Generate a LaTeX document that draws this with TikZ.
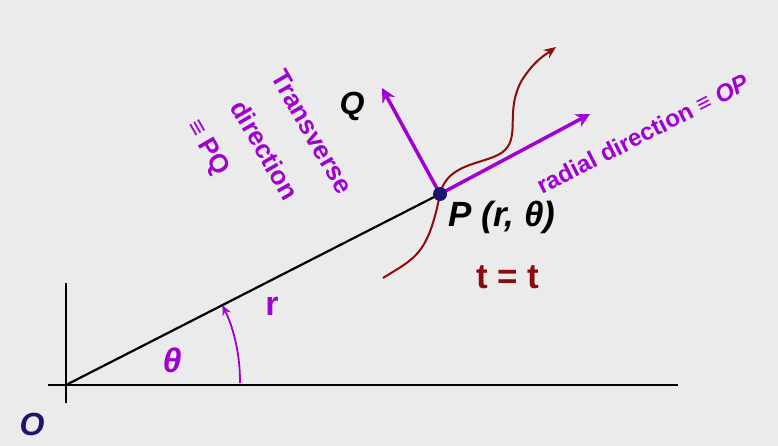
\documentclass[tikz,border=0pt]{standalone}
\usepackage{fontspec}
\setmainfont{Liberation Sans}
\usetikzlibrary{arrows.meta}
\definecolor{bg}{RGB}{235,235,235}
\definecolor{purp}{RGB}{160,0,210}
\definecolor{dred}{RGB}{140,10,10}
\definecolor{navy}{RGB}{30,20,110}
\tikzset{
  lbl/.style={font=\bfseries\fontsize{#1}{#1}\selectfont, inner sep=0pt},
  parrow/.style={draw=purp, line width=3.5pt, -{Stealth[length=14pt,width=14pt]}},
}
\begin{document}
\begin{tikzpicture}[x=1pt,y=-1pt]
\fill[bg] (0,0) rectangle (778,446);
\useasboundingbox (0,0) rectangle (778,446);
\coordinate (O) at (66,385);
\coordinate (P) at (440,194);
\coordinate (Xe) at (678,385);
\coordinate (Xs) at (48,385);
\coordinate (Yt) at (66,283);
\coordinate (Yb) at (66,403);
\coordinate (Qe) at (382,88);
\coordinate (Re) at (590,114);
\draw[line width=2pt] (Xs) -- (Xe);
\draw[line width=2pt] (Yb) -- (Yt);
\draw[line width=2.2pt] (O) -- (P);
\draw[purp, line width=1.8pt, -{Stealth[length=10pt,width=9pt]}] (240,383) arc[start angle=0.5, end angle=-26, radius=174];
\draw[parrow] (P) -- (Qe);
\draw[parrow] (P) -- (Re);
\draw[dred, line width=2pt, -{Stealth[length=12pt,width=10pt]}] (383,278) .. controls (415,258) and (428,255) .. (P)
  .. controls (448,160) and (490,165) .. (505,150) .. controls (520,135) and (505,110) .. (522,80) .. controls (535,60) and (545,55) .. (556,47);
\fill[navy] (P) circle (7);
\node[lbl=34, text=purp] (th) at (172,360) {\itshape θ};
\node[lbl=34, text=purp] (r) at (272,306) {r};
\node[lbl=32, text=navy] (Ol) at (32,424) {\itshape O};
\node[lbl=32] (Ql) at (352,106) {\itshape Q};
\node[lbl=35] (Pl) at (502,217) {\itshape P (r, θ)};
\node[lbl=35, text=dred] (tt) at (508,277) {t = t};
\node[lbl=24, text=purp, rotate=27] (rad) at (643,134) {radial direction ≡ \textit{OP}};
\node[lbl=26, text=purp, rotate=-60] (tr) at (312,132) {Transverse};
\node[lbl=26, text=purp, rotate=-60] (dir) at (265,150) {direction};
\node[lbl=26, text=purp, rotate=-60] (pq) at (207,148) {≡ PQ};
\end{tikzpicture}
\end{document}
